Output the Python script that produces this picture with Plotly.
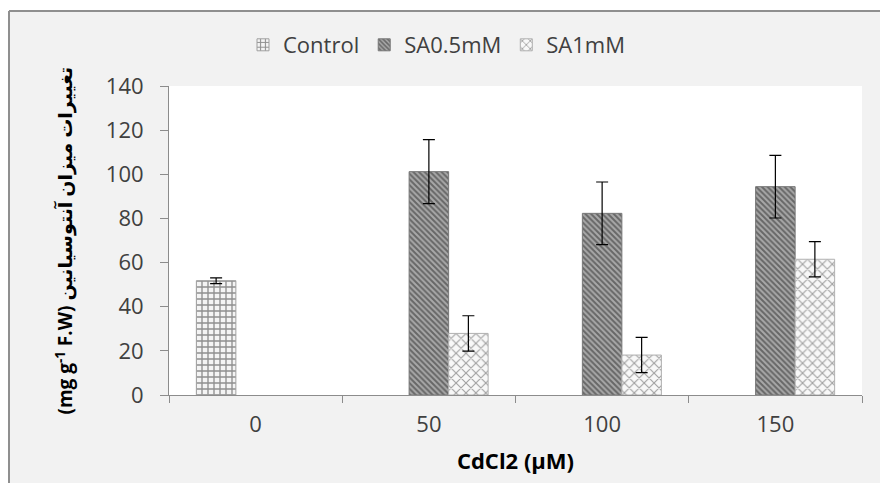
import plotly.graph_objects as go

categories = ["0", "50", "100", "150"]
control = [51.8, None, None, None]
control_err = [1.3, None, None, None]
sa05 = [None, 101.2, 82.3, 94.4]
sa05_err = [None, 14.5, 14.2, 14.2]
sa1 = [None, 27.9, 18.1, 61.5]
sa1_err = [None, 8.0, 8.0, 8.0]
series_names = ["Control", "SA0.5mM", "SA1mM"]

W, H = 880, 483
L, R, T, B = 169, 18, 86, 88
pw, ph = W - L - R, H - T - B

def px_x(x):
    return (x - L) / pw

def px_y(y):
    return (H - B - y) / ph

fig = go.Figure()
err_style = dict(type="data", visible=True, color="black", thickness=1.2, width=6)

fig.add_trace(go.Bar(
    name=series_names[0], x=categories, y=control,
    error_y=dict(array=control_err, **err_style),
    marker=dict(color="white", line=dict(color="#a0a0a0", width=1),
                pattern=dict(shape="+", fgcolor="#2a2a2a", bgcolor="#f4f4f4", size=6, solidity=0.4)),
))
fig.add_trace(go.Bar(
    name=series_names[1], x=categories, y=sa05,
    error_y=dict(array=sa05_err, **err_style),
    marker=dict(color="white", line=dict(color="#777777", width=1),
                pattern=dict(shape="\\", fgcolor="#262626", bgcolor="#a8a8a8", size=4, solidity=0.5)),
))
fig.add_trace(go.Bar(
    name=series_names[2], x=categories, y=sa1,
    error_y=dict(array=sa1_err, **err_style),
    marker=dict(color="white", line=dict(color="#b0b0b0", width=1),
                pattern=dict(shape="x", fgcolor="#4a4a4a", bgcolor="#f8f8f8", size=7, solidity=0.3)),
))

font_family = "Open Sans, DejaVu Sans, sans-serif"
txt = "#404040"

fig.update_layout(
    width=W, height=H,
    margin=dict(l=L, r=R, t=T, b=B, pad=0),
    paper_bgcolor="#f2f2f2", plot_bgcolor="white",
    barmode="group", bargap=0.316, bargroupgap=0,
    font=dict(family=font_family, size=22, color=txt),
    showlegend=True,
    legend=dict(orientation="h", x=px_x(437), xanchor="center",
                y=px_y(45), yanchor="middle",
                bgcolor="rgba(0,0,0,0)", font=dict(size=22, color=txt),
                itemclick=False),
    xaxis=dict(type="category", tickson="boundaries", ticks="outside", ticklen=7,
               tickcolor="#8c8c8c", showline=True, linecolor="#8c8c8c", linewidth=1,
               showgrid=False, zeroline=False, ticklabelstandoff=10,
               tickfont=dict(size=22, color=txt),
               title=dict(text="<b>CdCl2 (μM)</b>", font=dict(size=22, color="black"), standoff=16)),
    yaxis=dict(range=[0, 140], dtick=20, ticks="outside", ticklen=8,
               tickcolor="#8c8c8c", showline=True, linecolor="#8c8c8c", linewidth=1,
               showgrid=False, zeroline=False, ticklabelstandoff=12,
               tickfont=dict(size=22, color=txt)),
    annotations=[dict(
        text="<b>(mg g<sup>-1</sup> F.W) تغییرات میزان آنتوسیانین</b>",
        textangle=-90, xref="paper", yref="paper",
        x=px_x(64), y=0.5, xanchor="center", yanchor="middle",
        showarrow=False, font=dict(size=19, color="black"),
    )],
    shapes=[
        dict(type="rect", xref="paper", yref="paper", x0=px_x(-5), x1=px_x(9), y0=px_y(500), y1=px_y(-5),
             fillcolor="white", line=dict(width=0), layer="below"),
        dict(type="rect", xref="paper", yref="paper", x0=px_x(-5), x1=px_x(890), y0=px_y(11), y1=px_y(-5),
             fillcolor="white", line=dict(width=0), layer="below"),
        dict(type="line", xref="paper", yref="paper", x0=px_x(9), x1=px_x(9), y0=px_y(11), y1=px_y(500),
             line=dict(color="#8f8f8f", width=2)),
        dict(type="line", xref="paper", yref="paper", x0=px_x(9), x1=px_x(890), y0=px_y(11), y1=px_y(11),
             line=dict(color="#8f8f8f", width=2)),
    ],
)

fig.write_html("out.html")
